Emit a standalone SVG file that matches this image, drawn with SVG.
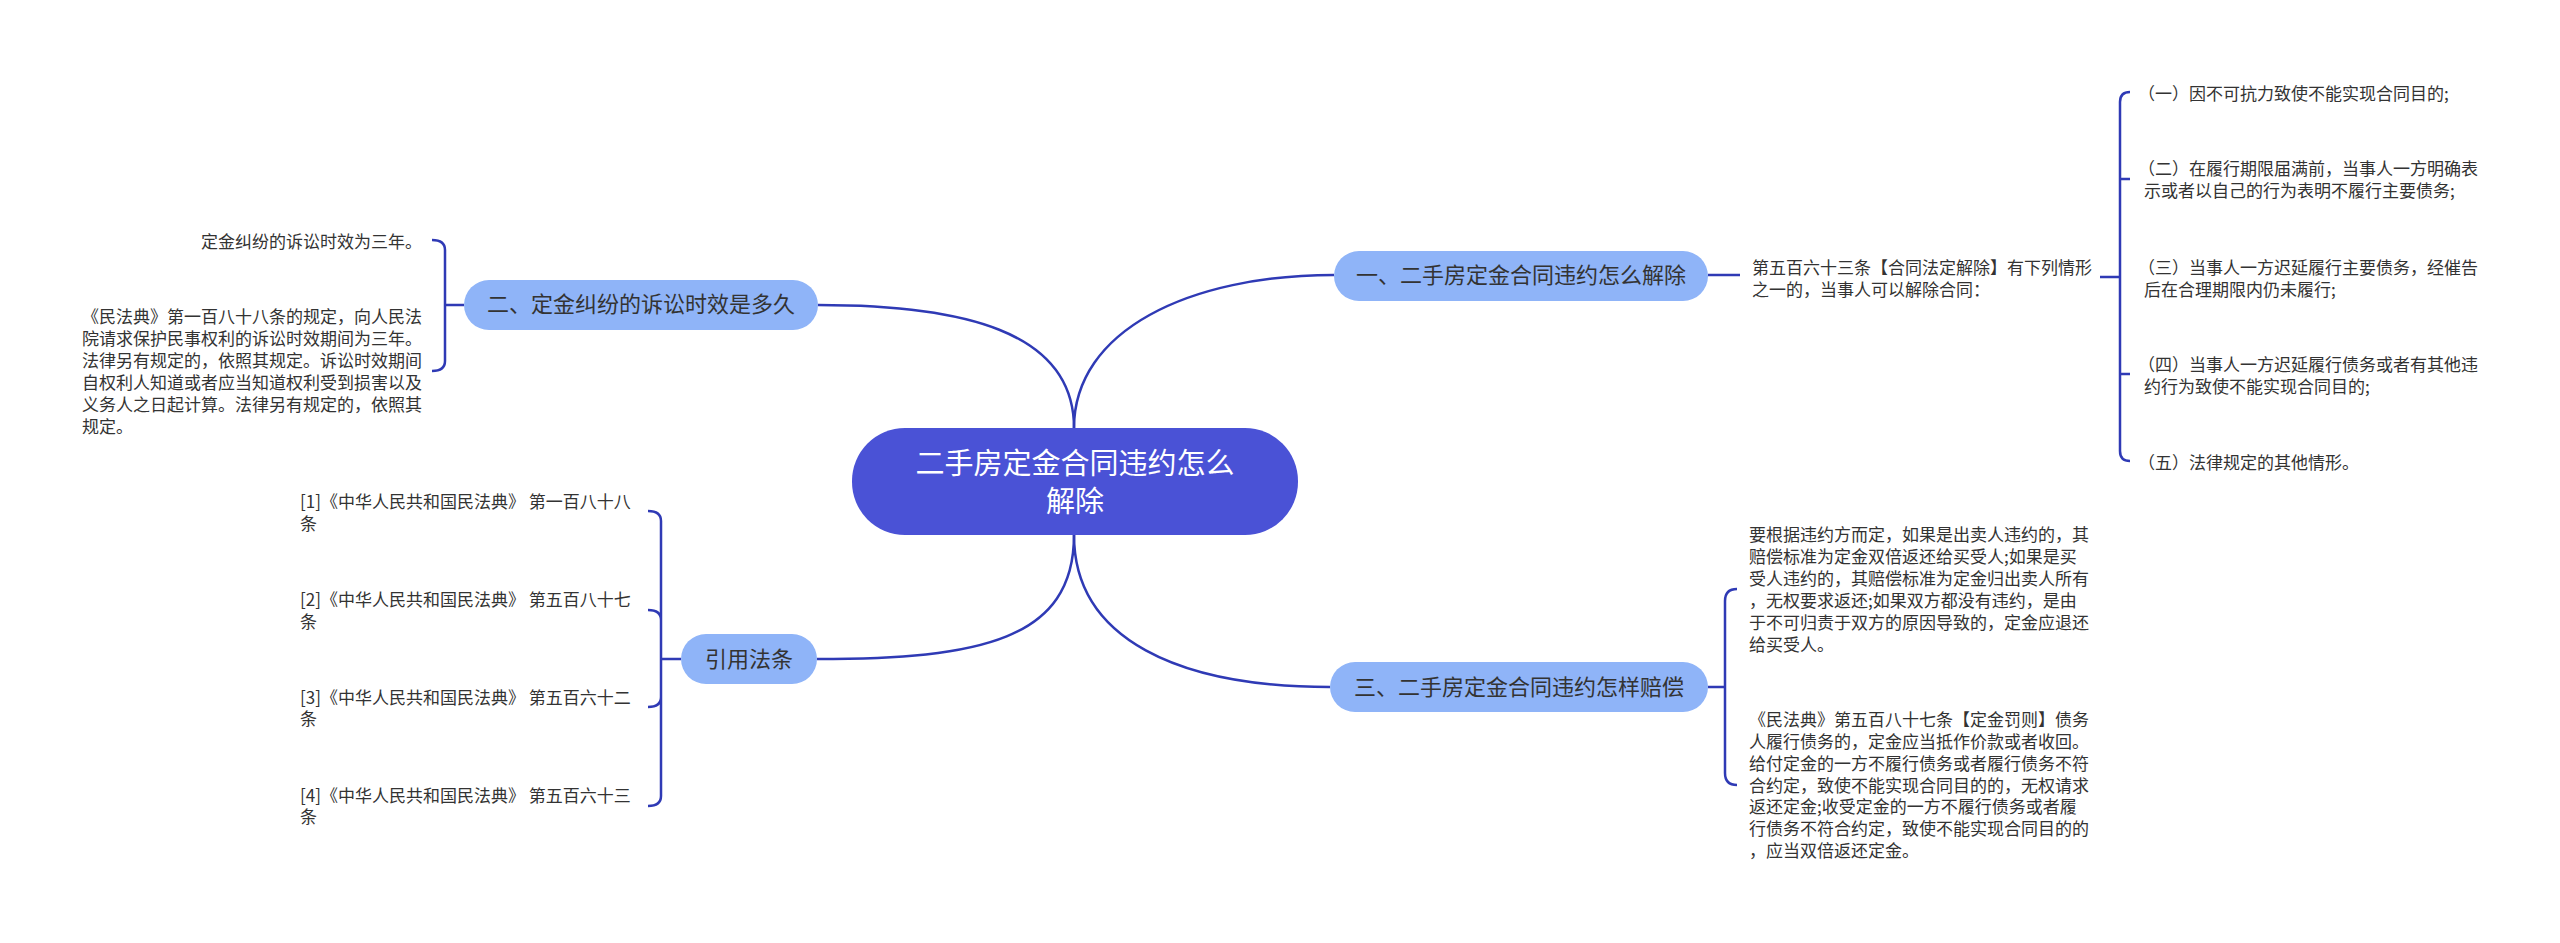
<svg xmlns="http://www.w3.org/2000/svg" width="2560" height="943" viewBox="0 0 2560 943">
<style>
text{font-family:"Noto Sans CJK SC","Noto Sans",sans-serif;fill:#333}
.t{font-size:17px}
.b{font-size:22px}
.r{font-size:29px;fill:#fff}
.br{fill:#8fb4f8}
.c{fill:none;stroke:#2f3ab5;stroke-width:2.5}
</style>
<rect width="2560" height="943" fill="#fff"/>
<g id="connectors">
<path class="c" d="M1074 428 C1074 330 1190 275 1334 275"/>
<path class="c" d="M1074 428 C1074 330 960 305 818 305"/>
<path class="c" d="M1074 535 C1074 640 980 659 817 659"/>
<path class="c" d="M1074 535 C1074 640 1180 687 1330 687"/>
<path class="c" d="M1708 275 H1740"/>
<path class="c" d="M2100 277 H2120 M2130 92 Q2120 92 2120 102 V451 Q2120 461 2130 461 M2120 179 Q2120 179 2130 179 M2120 374 H2130"/>
<path class="c" d="M464 305 H445 M432 240 Q445 240 445 250 V361 Q445 371 432 371"/>
<path class="c" d="M1708 687 H1725 M1737 589 Q1725 589 1725 601 V773 Q1725 785 1737 785"/>
<path class="c" d="M681 659 H661 M648 511 Q661 511 661 521 V796 Q661 806 648 806 M648 610 Q661 610 661 620 M648 707 Q661 707 661 697"/>
</g>
<g id="root"><rect x="852" y="428" width="446" height="107" rx="53" fill="#4a52d6"/>
<text class="r" x="1075" y="474" text-anchor="middle">二手房定金合同违约怎么</text>
<text class="r" x="1075" y="512" text-anchor="middle">解除</text></g>
<g id="b1"><rect class="br" x="1334" y="251" width="374" height="50" rx="25"/>
<text class="b" x="1521" y="283" text-anchor="middle">一、二手房定金合同违约怎么解除</text></g>
<g id="b1d"><text class="t" x="1752" y="274">第五百六十三条【合同法定解除】有下列情形</text>
<text class="t" x="1752" y="296">之一的，当事人可以解除合同：</text></g>
<g id="b1c1"><text class="t" x="2138" y="100">（一）因不可抗力致使不能实现合同目的;</text></g>
<g id="b1c2"><text class="t" x="2138" y="175">（二）在履行期限届满前，当事人一方明确表</text><text class="t" x="2144" y="197">示或者以自己的行为表明不履行主要债务;</text></g>
<g id="b1c3"><text class="t" x="2138" y="274">（三）当事人一方迟延履行主要债务，经催告</text><text class="t" x="2144" y="296">后在合理期限内仍未履行;</text></g>
<g id="b1c4"><text class="t" x="2138" y="371">（四）当事人一方迟延履行债务或者有其他违</text><text class="t" x="2144" y="393">约行为致使不能实现合同目的;</text></g>
<g id="b1c5"><text class="t" x="2138" y="469">（五）法律规定的其他情形。</text></g>
<g id="b2"><rect class="br" x="464" y="280" width="354" height="50" rx="25"/>
<text class="b" x="641" y="312" text-anchor="middle">二、定金纠纷的诉讼时效是多久</text></g>
<g id="b2c1"><text class="t" x="422" y="248" text-anchor="end">定金纠纷的诉讼时效为三年。</text></g>
<g id="b2c2" class="t">
<text class="t" x="82" y="323">《民法典》第一百八十八条的规定，向人民法</text>
<text class="t" x="82" y="345">院请求保护民事权利的诉讼时效期间为三年。</text>
<text class="t" x="82" y="367">法律另有规定的，依照其规定。诉讼时效期间</text>
<text class="t" x="82" y="389">自权利人知道或者应当知道权利受到损害以及</text>
<text class="t" x="82" y="411">义务人之日起计算。法律另有规定的，依照其</text>
<text class="t" x="82" y="433">规定。</text></g>
<g id="b3"><rect class="br" x="1330" y="662" width="378" height="50" rx="25"/>
<text class="b" x="1519" y="695" text-anchor="middle">三、二手房定金合同违约怎样赔偿</text></g>
<g id="b3c1">
<text class="t" x="1749" y="541">要根据违约方而定，如果是出卖人违约的，其</text>
<text class="t" x="1749" y="563">赔偿标准为定金双倍返还给买受人;如果是买</text>
<text class="t" x="1749" y="585">受人违约的，其赔偿标准为定金归出卖人所有</text>
<text class="t" x="1749" y="607">，无权要求返还;如果双方都没有违约，是由</text>
<text class="t" x="1749" y="629">于不可归责于双方的原因导致的，定金应退还</text>
<text class="t" x="1749" y="651">给买受人。</text></g>
<g id="b3c2">
<text class="t" x="1749" y="726">《民法典》第五百八十七条【定金罚则】债务</text>
<text class="t" x="1749" y="748">人履行债务的，定金应当抵作价款或者收回。</text>
<text class="t" x="1749" y="770">给付定金的一方不履行债务或者履行债务不符</text>
<text class="t" x="1749" y="792">合约定，致使不能实现合同目的的，无权请求</text>
<text class="t" x="1749" y="813">返还定金;收受定金的一方不履行债务或者履</text>
<text class="t" x="1749" y="835">行债务不符合约定，致使不能实现合同目的的</text>
<text class="t" x="1749" y="857">，应当双倍返还定金。</text></g>
<g id="b4"><rect class="br" x="681" y="634" width="136" height="50" rx="25"/>
<text class="b" x="749" y="667" text-anchor="middle">引用法条</text></g>
<g id="b4c1"><text class="t" x="300" y="508">[1]《中华人民共和国民法典》 第一百八十八</text><text class="t" x="300" y="530">条</text></g>
<g id="b4c2"><text class="t" x="300" y="606">[2]《中华人民共和国民法典》 第五百八十七</text><text class="t" x="300" y="628">条</text></g>
<g id="b4c3"><text class="t" x="300" y="704">[3]《中华人民共和国民法典》 第五百六十二</text><text class="t" x="300" y="725">条</text></g>
<g id="b4c4"><text class="t" x="300" y="802">[4]《中华人民共和国民法典》 第五百六十三</text><text class="t" x="300" y="823">条</text></g>
</svg>
